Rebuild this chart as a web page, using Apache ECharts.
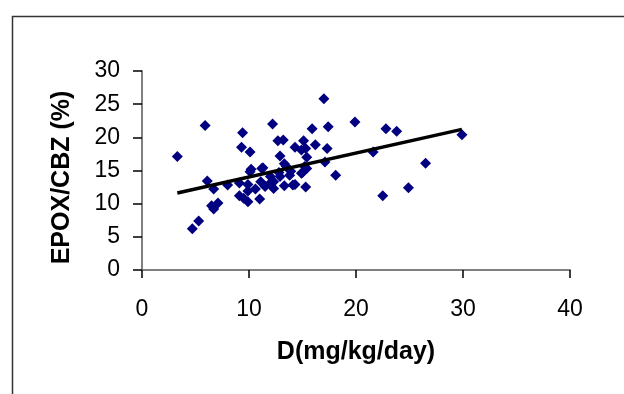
<!DOCTYPE html>
<html>
<head>
<meta charset="utf-8">
<script src="https://cdn.jsdelivr.net/npm/echarts@6/dist/echarts.min.js"></script>
<style>html,body{margin:0;padding:0;background:#fff;}#c{width:624px;height:394px;}</style>
</head>
<body>
<div id="c"></div>
<script>
var doseX = [3.3,4.7,5.3,5.9,6.1,6.7,6.5,6.7,7.1,8.0,9.1,9.1,9.4,9.3,9.5,9.9,9.9,10.1,10.2,10.6,11.0,11.1,11.3,11.5,12.2,12.3,12.7,13.2,12.9,13.3,13.3,12.8,14.3,14.3,13.9,15.1,15.3,15.0,15.3,15.4,15.9,16.2,17.0,17.1,17.3,17.4,18.1,19.9,21.6,22.5,22.8,23.8,24.9,26.5,29.9,12.0,13.8,14.9,15.2,11.2,13.5,12.0,12.3,14.1,14.9,9.9,15.4,12.9,10.1];
var ratioY = [17.1,6.2,7.4,21.8,13.4,12.2,9.7,9.2,10.1,12.8,13.1,11.2,20.7,18.5,10.8,11.9,10.3,17.8,15.2,12.2,10.7,13.3,15.4,12.6,22.0,13.3,19.5,19.6,17.2,16.0,12.7,14.7,18.5,12.9,14.9,19.5,18.3,14.7,12.5,17.0,21.3,18.9,25.8,16.3,18.3,21.6,14.3,22.3,17.8,11.2,21.3,20.9,12.4,16.1,20.4,14.1,14.3,14.6,15.6,15.3,15.6,13.1,12.3,12.8,18.1,12.9,15.3,14.1,14.8];
var trendX = [3.3, 29.9];
var trendY = [11.6, 21.2];
var xTicks = [0,10,20,30,40];
var yTicks = [0,5,10,15,20,25,30];

var pts = doseX.map(function(x,i){return [x, ratioY[i]];});
var trend = trendX.map(function(x,i){return [x, trendY[i]];});

var chart = echarts.init(document.getElementById('c'), null, {renderer:'canvas'});
chart.setOption({
  animation:false,
  backgroundColor:'#fff',
  graphic:[{type:'rect', left:10, top:14, shape:{width:700, height:500}, style:{fill:'none', stroke:'#333', lineWidth:1.5}, z:-1}],
  grid:{left:142, right:54, top:71, bottom:124},
  xAxis:{type:'value', min:xTicks[0], max:xTicks[xTicks.length-1], interval:10,
    name:'D(mg/kg/day)', nameLocation:'middle', nameGap:70,
    nameTextStyle:{fontFamily:'Liberation Sans', fontWeight:'bold', fontSize:25, color:'#000'},
    axisLine:{lineStyle:{color:'#808080', width:2}},
    axisTick:{length:8, lineStyle:{color:'#000', width:1.5}},
    axisLabel:{margin:28, fontFamily:'Liberation Sans', fontSize:23, color:'#000'},
    splitLine:{show:false}},
  yAxis:{type:'value', min:yTicks[0], max:yTicks[yTicks.length-1], interval:5,
    name:'EPOX/CBZ (%)', nameLocation:'middle', nameGap:67,
    nameTextStyle:{fontFamily:'Liberation Sans', fontWeight:'bold', fontSize:25, color:'#000', padding:[0,14,0,0]},
    axisLine:{show:true, lineStyle:{color:'#808080', width:2}},
    axisTick:{show:true, length:9, lineStyle:{color:'#000', width:1.5}},
    axisLabel:{margin:22, fontFamily:'Liberation Sans', fontSize:23, color:'#000'},
    splitLine:{show:false}},
  series:[
    {type:'scatter', data:pts, symbol:'diamond', symbolSize:11, itemStyle:{color:'#000080', opacity:1}, z:2},
    {type:'line', data:trend, symbol:'none', lineStyle:{color:'#000', width:3.5}, z:3}
  ]
});
</script>
</body>
</html>
